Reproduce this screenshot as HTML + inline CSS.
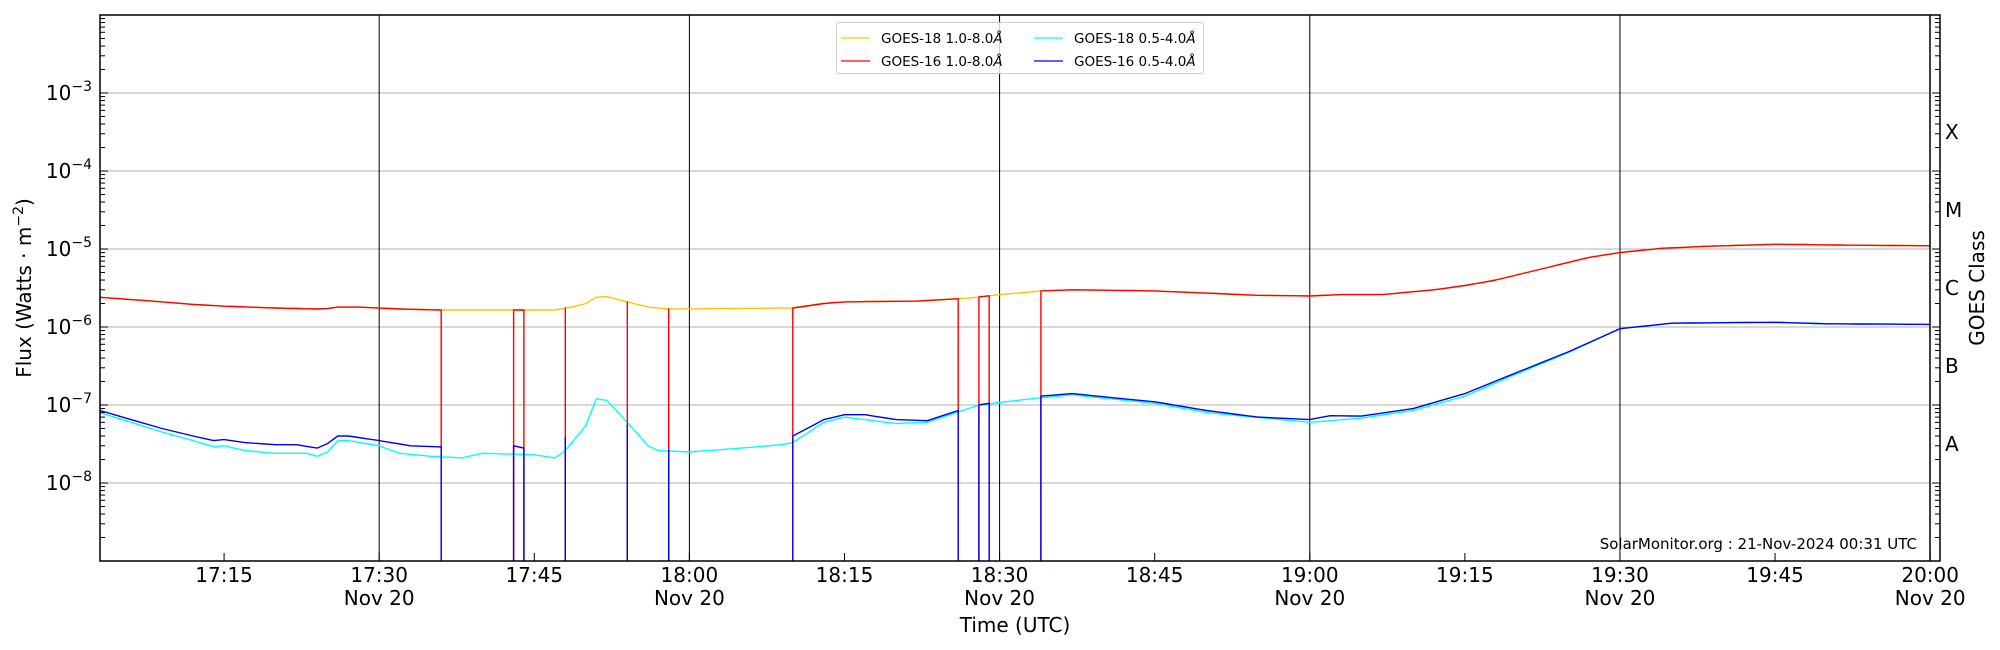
<!DOCTYPE html>
<html><head><meta charset="utf-8"><style>
body{margin:0;background:#fff;}
svg{display:block;font-family:"DejaVu Sans","Liberation Sans",sans-serif;}
</style></head><body>
<svg id="s" width="2000" height="650" xmlns="http://www.w3.org/2000/svg">
<defs><clipPath id="c"><rect x="100" y="15" width="1830" height="546"/></clipPath></defs>
<rect width="2000" height="650" fill="#fff"/>
<g id="grid"></g>
<g id="series" clip-path="url(#c)"></g>
<g id="axes"></g>
<rect x="836.5" y="22.5" width="367" height="51" rx="3" fill="#fff" fill-opacity="0.8" stroke="#ccc"/>
<line x1="841" y1="38" x2="870" y2="38" stroke="#ffc400" stroke-width="1.3"/>
<line x1="841" y1="61" x2="870" y2="61" stroke="#ff0000" stroke-width="1.3"/>
<line x1="1034" y1="38" x2="1063" y2="38" stroke="#00ffff" stroke-width="1.3"/>
<line x1="1034" y1="61" x2="1063" y2="61" stroke="#0000ff" stroke-width="1.3"/>
<g font-size="13.5" fill="#000">
<text x="881" y="43">GOES-18 1.0-8.0<tspan font-style="italic">Å</tspan></text>
<text x="881" y="66">GOES-16 1.0-8.0<tspan font-style="italic">Å</tspan></text>
<text x="1074" y="43">GOES-18 0.5-4.0<tspan font-style="italic">Å</tspan></text>
<text x="1074" y="66">GOES-16 0.5-4.0<tspan font-style="italic">Å</tspan></text>
</g>
<text x="1917" y="549" font-size="15" text-anchor="end">SolarMonitor.org : 21-Nov-2024 00:31 UTC</text>
<text x="1015" y="632" font-size="20" text-anchor="middle">Time (UTC)</text>
<text transform="translate(31,288) rotate(-90)" font-size="20" text-anchor="middle">Flux (Watts · m<tspan dy="-8" font-size="14">−2</tspan><tspan dy="8">)</tspan></text>
<text transform="translate(1984,288) rotate(-90)" font-size="20" text-anchor="middle">GOES Class</text>
</svg>
<script>
const NS="http://www.w3.org/2000/svg";
const L=100,R=1930,T=15,B=561,PX=10.34,DEC=78.0;
const X=t=>L+t*PX;
const Y=v=>T+(-2-Math.log10(v))*DEC;
function el(p,tag,a,txt){const e=document.createElementNS(NS,tag);for(const k in a)e.setAttribute(k,a[k]);if(txt!==undefined)e.textContent=txt;p.appendChild(e);return e;}
const g=document.getElementById('grid'),ax=document.getElementById('axes'),se=document.getElementById('series');
for(let d=-8;d<=-3;d++){const y=Y(Math.pow(10,d));el(g,'line',{x1:L,x2:R,y1:y,y2:y,stroke:'#b0b0b0','stroke-width':1});}
[27,57,87,117,147].forEach(t=>el(g,'line',{x1:X(t),x2:X(t),y1:T,y2:B,stroke:'#000','stroke-width':1}));
function hm(h,m){return (h-17)*60+m-3;}
function interp(pts){const out=[];for(let t=0;t<=177;t++){let i=0;while(i<pts.length-2&&pts[i+1][0]<t)i++;const a=pts[i],b=pts[i+1];let f=(t-a[0])/(b[0]-a[0]);f=Math.max(0,Math.min(1,f));out.push(Math.pow(10,Math.log10(a[1])+f*(Math.log10(b[1])-Math.log10(a[1]))));}return out;}
const P=a=>a.map(([h,m,v])=>[hm(h,m),v]);
const redPts=P([[17,3,2.4e-6],[17,8,2.15e-6],[17,12,1.95e-6],[17,15,1.85e-6],[17,20,1.75e-6],[17,24,1.7e-6],[17,25,1.72e-6],[17,26,1.8e-6],[17,28,1.8e-6],[17,32,1.7e-6],[17,36,1.65e-6],[17,47,1.65e-6],[17,49,1.85e-6],[17,50,2.0e-6],[17,51,2.4e-6],[17,52,2.45e-6],[17,54,2.1e-6],[17,56,1.8e-6],[17,58,1.7e-6],[18,10,1.75e-6],[18,13,2.0e-6],[18,15,2.1e-6],[18,22,2.15e-6],[18,27,2.35e-6],[18,30,2.6e-6],[18,34,2.9e-6],[18,37,3.0e-6],[18,45,2.9e-6],[18,55,2.55e-6],[19,0,2.5e-6],[19,3,2.6e-6],[19,7,2.6e-6],[19,12,3.0e-6],[19,15,3.4e-6],[19,18,4.0e-6],[19,23,5.8e-6],[19,27,7.8e-6],[19,30,9.0e-6],[19,34,1.02e-5],[19,38,1.08e-5],[19,45,1.15e-5],[19,52,1.12e-5],[20,0,1.1e-5]]);
const bluePts=P([[17,3,8.5e-8],[17,6,6.5e-8],[17,9,5e-8],[17,12,4e-8],[17,14,3.5e-8],[17,15,3.6e-8],[17,17,3.3e-8],[17,20,3.1e-8],[17,22,3.1e-8],[17,24,2.8e-8],[17,25,3.2e-8],[17,26,4e-8],[17,27,4e-8],[17,30,3.5e-8],[17,33,3e-8],[17,36,2.9e-8],[17,43,3e-8],[17,44,2.8e-8],[17,48,3.8e-8],[17,54,5.5e-8],[17,58,2.6e-8],[18,10,4e-8],[18,13,6.5e-8],[18,15,7.5e-8],[18,17,7.5e-8],[18,20,6.5e-8],[18,23,6.3e-8],[18,26,8.5e-8],[18,28,1.0e-7],[18,29,1.05e-7],[18,34,1.3e-7],[18,37,1.4e-7],[18,42,1.2e-7],[18,45,1.1e-7],[18,50,8.5e-8],[18,55,7e-8],[19,0,6.5e-8],[19,2,7.3e-8],[19,5,7.2e-8],[19,10,9e-8],[19,15,1.4e-7],[19,20,2.6e-7],[19,25,4.8e-7],[19,30,9.5e-7],[19,35,1.12e-6],[19,45,1.15e-6],[19,50,1.1e-6],[20,0,1.08e-6]]);
const cyanPts=P([[17,3,8e-8],[17,6,6e-8],[17,9,4.5e-8],[17,12,3.5e-8],[17,14,2.9e-8],[17,15,3e-8],[17,17,2.6e-8],[17,20,2.4e-8],[17,23,2.4e-8],[17,24,2.2e-8],[17,25,2.5e-8],[17,26,3.5e-8],[17,27,3.5e-8],[17,30,3e-8],[17,32,2.4e-8],[17,35,2.2e-8],[17,38,2.1e-8],[17,40,2.4e-8],[17,45,2.3e-8],[17,47,2.1e-8],[17,48,2.6e-8],[17,50,5.5e-8],[17,51,1.2e-7],[17,52,1.15e-7],[17,54,6e-8],[17,56,3e-8],[17,57,2.6e-8],[18,0,2.5e-8],[18,5,2.8e-8],[18,9,3.1e-8],[18,10,3.3e-8],[18,13,6e-8],[18,15,7e-8],[18,20,5.8e-8],[18,23,6e-8],[18,28,1e-7],[18,33,1.2e-7],[18,37,1.35e-7],[18,45,1.05e-7],[18,50,8e-8],[19,0,6e-8],[19,5,6.8e-8],[19,10,8.5e-8],[19,15,1.3e-7],[19,20,2.5e-7],[19,25,4.7e-7],[19,30,9.5e-7],[19,35,1.12e-6],[19,45,1.15e-6],[19,50,1.1e-6],[20,0,1.08e-6]]);
const valid=t=>(t<=33)||t===40||t===41||t===45||t===51||t===55||(t>=67&&t<=83)||t===85||t===86||t>=91;
function poly(arr,color){let pts=[];for(let t=0;t<=177;t++)pts.push(X(t).toFixed(1)+','+Y(arr[t]).toFixed(1));
el(se,'polyline',{points:pts.join(' '),fill:'none',stroke:color,'stroke-width':1.4,'stroke-linejoin':'round'});}
function polyGap(arr,color){let t=0;const bot=(B+5).toFixed(1);
while(t<=177){if(!valid(t)){t++;continue;}let s=t;while(t<=177&&valid(t))t++;let e=t-1;let pts=[];
if(s>0)pts.push(X(s).toFixed(1)+','+bot);
for(let k=s;k<=e;k++)pts.push(X(k).toFixed(1)+','+Y(arr[k]).toFixed(1));
if(e<177)pts.push(X(e).toFixed(1)+','+bot);
el(se,'polyline',{points:pts.join(' '),fill:'none',stroke:color,'stroke-width':1.4,'stroke-linejoin':'round'});}}
const yel=interp(redPts),blu=interp(bluePts),cy=interp(cyanPts);
poly(yel,'#ffc400');
poly(cy,'#00ffff');
polyGap(yel,'#ff0000');
polyGap(blu,'#0000ff');
el(ax,'rect',{x:L,y:T,width:1840,height:B-T,fill:'none',stroke:'#000','stroke-width':1.5});
el(ax,'line',{x1:R,x2:R,y1:T,y2:B,stroke:'#000','stroke-width':1.5});
for(let d=-9;d<=-2;d++){for(let k=1;k<10;k++){const v=k*Math.pow(10,d);const y=Y(v);if(y<T-0.5||y>B+0.5)continue;const len=k===1?8:5;
el(ax,'line',{x1:L,x2:L+len,y1:y,y2:y,stroke:'#000','stroke-width':1});
el(ax,'line',{x1:1940,x2:1940-len,y1:y,y2:y,stroke:'#000','stroke-width':1});}}
for(let d=-8;d<=-3;d++){const t=el(ax,'text',{x:92,y:Y(Math.pow(10,d))+7,'font-size':20,'text-anchor':'end'});
el(t,'tspan',{},'10');el(t,'tspan',{dy:-9,'font-size':14},'−'+(-d));}
[['X',-3.5],['M',-4.5],['C',-5.5],['B',-6.5],['A',-7.5]].forEach(([c,l])=>el(ax,'text',{x:1945,y:Y(Math.pow(10,l))+7,'font-size':20},c));
for(let t=12;t<=177;t+=15){const x=X(t);el(ax,'line',{x1:x,x2:x,y1:B,y2:B-8,stroke:'#000','stroke-width':1});
const mins=t+3,h=17+Math.floor(mins/60),m=mins%60;const lab=h+':'+(m<10?'0':'')+m;
el(ax,'text',{x:x,y:582,'font-size':20,'text-anchor':'middle'},lab);
if(m===0||m===30)el(ax,'text',{x:x,y:605,'font-size':20,'text-anchor':'middle'},'Nov 20');}
</script>
</body></html>
